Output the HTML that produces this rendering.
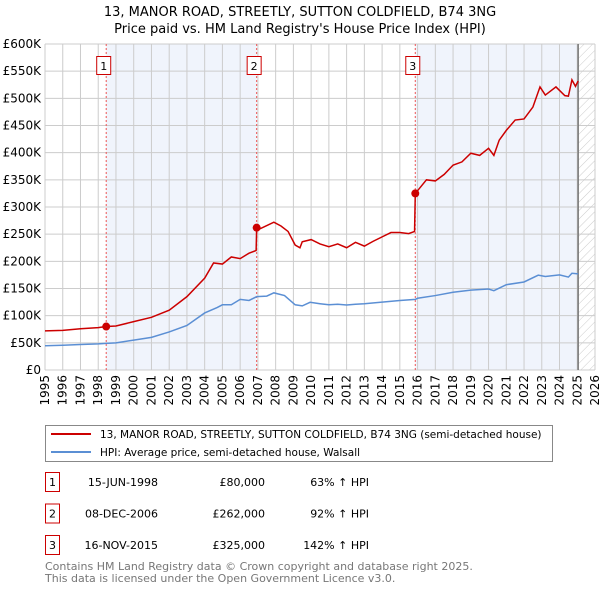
<!DOCTYPE html>
<html><head><meta charset="utf-8"><style>
body{margin:0;background:#fff;font-family:"Liberation Sans","DejaVu Sans",sans-serif;}
svg text{font-family:"DejaVu Sans","Liberation Sans",sans-serif;}
</style></head><body>
<svg id="c" width="600" height="590" xmlns="http://www.w3.org/2000/svg">
<defs><pattern id="hatch" width="6" height="6" patternUnits="userSpaceOnUse" patternTransform="rotate(45)"><line x1="0" y1="0" x2="0" y2="6" stroke="#ccc" stroke-width="1"/></pattern></defs>
<text x="300" y="16" text-anchor="middle" font-size="13">13, MANOR ROAD, STREETLY, SUTTON COLDFIELD, B74 3NG</text>
<text x="300" y="33" text-anchor="middle" font-size="13">Price paid vs. HM Land Registry's House Price Index (HPI)</text>
<g id="plot"></g>
<g>
<rect x="45.5" y="425.5" width="507" height="36" fill="#fff" stroke="#888"/>
<line x1="51" y1="434" x2="91" y2="434" stroke="#cc0000" stroke-width="2"/>
<text x="100" y="438" font-size="10.5">13, MANOR ROAD, STREETLY, SUTTON COLDFIELD, B74 3NG (semi-detached house)</text>
<line x1="51" y1="452" x2="91" y2="452" stroke="#5b8fd4" stroke-width="2"/>
<text x="100" y="456" font-size="10.5">HPI: Average price, semi-detached house, Walsall</text>
</g>
<g id="table" font-size="11"></g>
<text x="45" y="570" font-size="11" fill="#777">Contains HM Land Registry data © Crown copyright and database right 2025.</text>
<text x="45" y="582" font-size="11" fill="#777">This data is licensed under the Open Government Licence v3.0.</text>
</svg>
<script>
const hpiYears=[1995,1996,1997,1998,1998.45,1999,2000,2001,2002,2003,2004,2004.7,2005,2005.5,2006,2006.5,2006.93,2007.5,2007.9,2008.5,2009.1,2009.5,2009.94,2010.5,2011,2011.5,2012,2012.5,2013,2014,2015,2015.87,2016,2017,2018,2019,2020,2020.3,2021,2022,2022.8,2023.2,2024,2024.5,2024.7,2025.05];
const hpiValues=[44.7,45.5,47,48,49,50,55,60,70,82,105,115,120,120,130,128,135,136,142,137,120,118,124.6,122,120,121,119.6,121,122,125,128,130,132,137,143,147,149,146,157,162,174.5,172,175,171,178,177];
const redYears=[1995,1996,1997,1998,1998.45,1999,2000,2001,2002,2003,2004,2004.5,2005,2005.5,2006,2006.5,2006.9,2006.93,2007,2007.9,2008.3,2008.7,2009.1,2009.37,2009.5,2010,2010.5,2011,2011.5,2012,2012.5,2013,2013.5,2014,2014.5,2015,2015.5,2015.83,2015.87,2016,2016.5,2017,2017.5,2018,2018.5,2019,2019.5,2020,2020.3,2020.6,2021,2021.5,2022,2022.5,2022.9,2023.2,2023.8,2024.3,2024.5,2024.7,2024.9,2025.05];
const redValues=[72,73,76,78,80,81,89,97,110,135,169,197,195,208,205,215,220,262,258,272,265,255,230,225,236,240,232,227,232,225,235,228,237,245,253,253,251,255,325,330,350,348,360,377,383,399,395,408,395,423,441,460,462,484,521,506,521,505,504,534,522,532];
const saleYears=[1998.45,2006.93,2015.87];
const salePrices=[80,262,325];
const saleLabels=["1","2","3"];
const saleDates=["15-JUN-1998","08-DEC-2006","16-NOV-2015"];
const salePriceText=["£80,000","£262,000","£325,000"];
const saleHpiText=["63% ↑ HPI","92% ↑ HPI","142% ↑ HPI"];
const yTicks=[0,50,100,150,200,250,300,350,400,450,500,550,600];
const yTickLabels=["£0","£50K","£100K","£150K","£200K","£250K","£300K","£350K","£400K","£450K","£500K","£550K","£600K"];
const xTicks=[1995,1996,1997,1998,1999,2000,2001,2002,2003,2004,2005,2006,2007,2008,2009,2010,2011,2012,2013,2014,2015,2016,2017,2018,2019,2020,2021,2022,2023,2024,2025,2026];
const dataEnd=2025.05;

const X0=45,X1=595,Y0=370,Y1=44;
const xs=y=>X0+(y-1995)/(2026-1995)*(X1-X0);
const ys=v=>Y0-v/600*(Y0-Y1);
const NS="http://www.w3.org/2000/svg";
const plot=document.getElementById('plot');
function mk(tag,attrs,parent){const e=document.createElementNS(NS,tag);for(const k in attrs)e.setAttribute(k,attrs[k]);(parent||plot).appendChild(e);return e;}

let r=mk('rect',{x:xs(saleYears[0]),y:Y1,width:xs(saleYears[1])-xs(saleYears[0]),height:Y0-Y1,fill:'#f0f4fc'});


r=mk('rect',{x:xs(saleYears[2]),y:Y1,width:xs(dataEnd)-xs(saleYears[2]),height:Y0-Y1,fill:'#f0f4fc'});


r=mk('rect',{x:xs(dataEnd),y:Y1,width:X1-xs(dataEnd),height:Y0-Y1,fill:'url(#hatch)'});



xTicks.forEach((t,i)=>{
  const l=mk('line',{x1:xs(t),x2:xs(t),y1:Y1,y2:Y0,stroke:'#ccc','stroke-width':1});
  
  
  const x=xs(t)+4;
  const tx=mk('text',{x:x,y:Y0+5,'font-size':12,'text-anchor':'end',transform:`rotate(-90 ${x} ${Y0+5})`});
  tx.textContent=t;
  
  
});
yTicks.forEach((t,i)=>{
  const l=mk('line',{x1:X0,x2:X1,y1:ys(t),y2:ys(t),stroke:'#ccc','stroke-width':1});
  
  
  const tx=mk('text',{x:X0-4,y:ys(t)+4,'font-size':12,'text-anchor':'end'});
  tx.textContent=yTickLabels[i];
  
  
});
r=mk('line',{x1:xs(dataEnd),x2:xs(dataEnd),y1:Y1,y2:Y0,stroke:'#777','stroke-width':1.5});



saleYears.forEach((s,i)=>{
  const l=mk('line',{x1:xs(s),x2:xs(s),y1:Y1,y2:Y0,stroke:'#e55','stroke-width':1,'stroke-dasharray':'2,2'});
  
  
});
let p=mk('polyline',{points:hpiYears.map((y,i)=>xs(y)+','+ys(hpiValues[i])).join(' '),fill:'none',stroke:'#5b8fd4','stroke-width':1.5});


p=mk('polyline',{points:redYears.map((y,i)=>xs(y)+','+ys(redValues[i])).join(' '),fill:'none',stroke:'#cc0000','stroke-width':1.5});


saleYears.forEach((s,i)=>{
  const c=mk('circle',{cx:xs(s),cy:ys(salePrices[i]),r:4,fill:'#cc0000'});
  
  
  const b=mk('rect',{x:xs(s)-9.5,y:56.5,width:14,height:18,fill:'#fff',stroke:'#cc0000'});
  
  
  const t=mk('text',{x:xs(s)-2.5,y:70,'font-size':11,'text-anchor':'middle'});
  t.textContent=saleLabels[i];
  
  
});

const tbl=document.getElementById('table');
saleYears.forEach((s,i)=>{
  const y=486+i*31.5;
  const b=mk('rect',{x:45.5,y:y-13.5,width:14,height:19,fill:'#fff',stroke:'#cc0000'},tbl);
  
  
  let t=mk('text',{x:52.5,y:y,'text-anchor':'middle'},tbl);t.textContent=saleLabels[i];
  
  
  t=mk('text',{x:158,y:y,'text-anchor':'end'},tbl);t.textContent=saleDates[i];
  
  
  t=mk('text',{x:265,y:y,'text-anchor':'end'},tbl);t.textContent=salePriceText[i];
  
  
  t=mk('text',{x:369,y:y,'text-anchor':'end'},tbl);t.textContent=saleHpiText[i];
  
  
});
</script>
</body></html>
